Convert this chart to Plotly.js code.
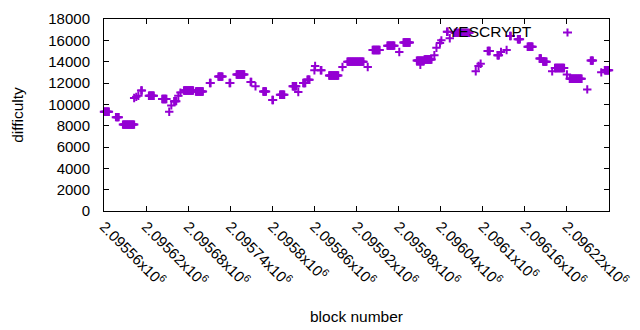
<!DOCTYPE html>
<html>
<head>
<meta charset="utf-8">
<script src="https://cdn.plot.ly/plotly-3.0.1.min.js"></script>
<style>html,body{margin:0;padding:0;background:#fff;}#chart{width:640px;height:330px;}</style>
</head>
<body>
<div id="chart"></div>
<script>
// Runs of consecutive blocks with a constant difficulty
const runStart = [2095560,2095577,2095587,2095603,2095606,2095609,2095613,2095624,2095643,2095653,2095656,2095660,2095666,2095669,2095674,2095691,2095711,2095723,2095739,2095749,2095769,2095776,2095787,2095800,2095811,2095829,2095837,2095844,2095850,2095860,2095861,2095869,2095881,2095900,2095907,2095936,2095943,2095964,2095981,2095987,2096006,2096011,2096017,2096031,2096034,2096039,2096041,2096049,2096053,2096060,2096090,2096094,2096097,2096107,2096121,2096126,2096134,2096139,2096150,2096164,2096181,2096186,2096199,2096203,2096220,2096224,2096249,2096254,2096269,2096274];
const runEnd   = [2095567,2095581,2095603,2095603,2095606,2095609,2095614,2095631,2095649,2095653,2095656,2095663,2095666,2095669,2095687,2095701,2095712,2095729,2095740,2095760,2095770,2095776,2095791,2095801,2095817,2095834,2095837,2095847,2095853,2095860,2095861,2095870,2095894,2095900,2095930,2095936,2095953,2095974,2095981,2095996,2096016,2096011,2096027,2096031,2096034,2096039,2096041,2096050,2096053,2096081,2096090,2096094,2096097,2096110,2096123,2096126,2096134,2096140,2096153,2096171,2096183,2096191,2096199,2096216,2096220,2096241,2096249,2096257,2096269,2096280];
const runDiff  = [9300,8800,8100,10600,10700,10800,11300,10800,10500,9300,9900,10300,10800,11100,11300,11200,12000,12600,12000,12800,12100,11700,11200,10400,10900,11700,11150,12000,12300,13200,13600,13200,12700,13500,14000,13500,15100,15500,14900,15800,14100,13700,14200,14600,15300,15750,16000,16800,16200,16700,13100,13600,13800,15000,14600,14900,15100,16400,16100,15400,14300,14000,13100,13400,12800,12400,11400,14100,13000,13200];

const xTickVals = [2095560,2095620,2095680,2095740,2095800,2095860,2095920,2095980,2096040,2096100,2096160,2096220,2096280];
const xTickText = ["2.09556x10<sup>6</sup>","2.09562x10<sup>6</sup>","2.09568x10<sup>6</sup>","2.09574x10<sup>6</sup>","2.0958x10<sup>6</sup>","2.09586x10<sup>6</sup>","2.09592x10<sup>6</sup>","2.09598x10<sup>6</sup>","2.09604x10<sup>6</sup>","2.0961x10<sup>6</sup>","2.09616x10<sup>6</sup>","2.09622x10<sup>6</sup>","2.09628x10<sup>6</sup>"];
const seriesName = "YESCRYPT";

// one point per block inside each run
const xs = [], ys = [];
for (let i = 0; i < runStart.length; i++) {
  for (let b = runStart[i]; b <= runEnd[i]; b++) { xs.push(b); ys.push(runDiff[i]); }
}

const color = '#9400d3';
const marker = {symbol: 'cross-thin', size: 6, color: color, line: {color: color, width: 2}};
const FONT = '"Liberation Sans", Arial, sans-serif';

const data = [
  {x: xs, y: ys, type: 'scatter', mode: 'markers', name: seriesName, marker: marker, showlegend: false, cliponaxis: false}
];

const axisCommon = {
  showline: true, linecolor: '#000', linewidth: 1, mirror: 'ticks',
  ticks: 'inside', ticklen: 5, tickcolor: '#000', tickwidth: 1,
  showgrid: false, zeroline: false,
  tickfont: {family: FONT, size: 15, color: '#000'}
};

// key sample (gnuplot-style: text then point sample), in paper fractions
const keyX = 0.9178, keyY = 0.9297, kdx = 4.5 / 505, kdy = 4 / 192;

const layout = {
  width: 640, height: 330,
  margin: {l: 104, r: 31, t: 19, b: 119, autoexpand: false},
  paper_bgcolor: '#fff', plot_bgcolor: '#fff',
  font: {family: FONT, size: 15, color: '#000'},
  xaxis: Object.assign({}, axisCommon, {
    range: [2095560, 2096280], tickmode: 'array', tickvals: xTickVals, ticktext: xTickText,
    tickangle: 45, automargin: false,
    title: {text: 'block number', font: {family: FONT, size: 15.5, color: '#000'}, standoff: 22}
  }),
  yaxis: Object.assign({}, axisCommon, {
    range: [0, 18000], dtick: 2000, tick0: 0, tickformat: 'd', automargin: false, ticklabelstandoff: 10,
    title: {text: 'difficulty', font: {family: FONT, size: 15.5, color: '#000'}, standoff: 20}
  }),
  showlegend: false,
  annotations: [{
    text: seriesName, xref: 'paper', yref: 'paper', x: 0.851, y: 0.9375,
    xanchor: 'right', yanchor: 'middle', showarrow: false,
    font: {family: FONT, size: 15.5, color: '#000'}
  }],
  shapes: [
    {type: 'line', xref: 'paper', yref: 'paper', x0: keyX - kdx, x1: keyX + kdx, y0: keyY, y1: keyY, line: {color: color, width: 2}},
    {type: 'line', xref: 'paper', yref: 'paper', x0: keyX, x1: keyX, y0: keyY - kdy, y1: keyY + kdy, line: {color: color, width: 2}}
  ]
};

Plotly.newPlot('chart', data, layout, {staticPlot: true, displayModeBar: false});
</script>
</body>
</html>
